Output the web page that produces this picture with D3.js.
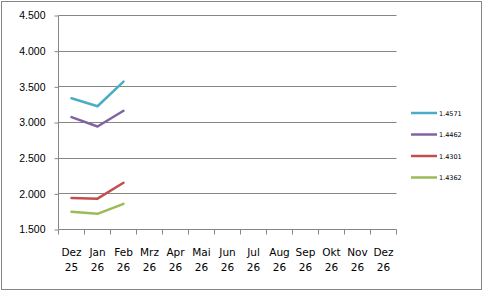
<!DOCTYPE html>
<html>
<head>
<meta charset="utf-8">
<script src="https://cdn.jsdelivr.net/npm/d3@7"></script>
<style>
  body { margin: 0; background: #fff; }
  svg { display: block; font-family: "DejaVu Sans", Verdana, sans-serif; }
</style>
</head>
<body>
<div id="chart"></div>
<script>
"use strict";

// months on the x axis (two-line labels)
const months = ["Dez", "Jan", "Feb", "Mrz", "Apr", "Mai", "Jun", "Jul", "Aug", "Sep", "Okt", "Nov", "Dez"];
const years = ["25", "26", "26", "26", "26", "26", "26", "26", "26", "26", "26", "26", "26"];
const yTicks = [1500, 2000, 2500, 3000, 3500, 4000, 4500];

// series names and values (only first 3 months have data)
const seriesNames = ["1.4571", "1.4462", "1.4301", "1.4362"];
const seriesColors = ["#4BACC6", "#8064A2", "#C0504D", "#9BBB59"];
const s1 = [3340, 3228, 3572];
const s2 = [3076, 2944, 3164];
const s3 = [1940, 1932, 2156];
const s4 = [1748, 1720, 1860];
const seriesValues = [s1, s2, s3, s4];

const W = 483, H = 291;
const m = { left: 58.5, right: 396.5, top: 15.5, bottom: 229.5 };

const svg = d3.select("#chart").append("svg")
  .attr("width", W).attr("height", H);

// outer border
svg.append("rect")
  .attr("x", 1.5).attr("y", 1.5)
  .attr("width", W - 3).attr("height", H - 3)
  .attr("fill", "#fff").attr("stroke", "#868686").attr("stroke-width", 1);

const x = d3.scaleBand().domain(d3.range(months.length)).range([m.left, m.right]);
const y = d3.scaleLinear().domain([1500, 4500]).range([m.bottom, m.top]);

// gridlines
svg.append("g").selectAll("line").data(yTicks.slice(1)).join("line")
  .attr("x1", m.left).attr("x2", m.right)
  .attr("y1", d => Math.round(y(d) - 0.5) + 0.5).attr("y2", d => Math.round(y(d) - 0.5) + 0.5)
  .attr("stroke", "#868686");

// y axis
const yAxis = svg.append("g").attr("transform", `translate(${m.left},0)`)
  .call(d3.axisLeft(y).tickValues(yTicks).tickSize(4).tickPadding(9)
    .tickFormat(d => d3.format(",.3f")(d / 1000).replace(",", ".")));
yAxis.select(".domain").attr("stroke", "#868686").attr("d", `M0,${m.top}V${m.bottom}`);
yAxis.selectAll(".tick line").attr("stroke", "#868686");
yAxis.selectAll(".tick text").attr("fill", "#000").style("font-size", "10.5px");

// x axis line and ticks between categories
const xg = svg.append("g");
xg.append("line")
  .attr("x1", m.left).attr("x2", m.right).attr("y1", m.bottom).attr("y2", m.bottom)
  .attr("stroke", "#868686");
xg.selectAll(".tk").data(d3.range(months.length + 1)).join("line")
  .attr("class", "tk")
  .attr("x1", i => Math.round(m.left - 0.5 + i * x.step()) + 0.5)
  .attr("x2", i => Math.round(m.left - 0.5 + i * x.step()) + 0.5)
  .attr("y1", m.bottom).attr("y2", m.bottom + 5)
  .attr("stroke", "#868686");
const lbl = xg.selectAll(".lbl").data(months).join("text")
  .attr("class", "lbl")
  .attr("text-anchor", "middle")
  .attr("fill", "#000")
  .style("font-size", "10.5px");
lbl.each(function(d, i) {
  const t = d3.select(this);
  const cx = x(i) + x.bandwidth() / 2;
  t.append("tspan").attr("x", cx).attr("y", 256).text(d);
  t.append("tspan").attr("x", cx).attr("y", 271).text(years[i]);
});

// series lines
const line = d3.line()
  .x((d, i) => x(i) + x.bandwidth() / 2)
  .y(d => y(d));
svg.append("g").selectAll("path").data(seriesValues).join("path")
  .attr("d", line)
  .attr("fill", "none")
  .attr("stroke", (d, i) => seriesColors[i])
  .attr("stroke-width", 2.5)
  .attr("stroke-linejoin", "round")
  .attr("stroke-linecap", "round");

// legend
const lg = svg.append("g").selectAll("g").data(seriesNames).join("g")
  .attr("transform", (d, i) => `translate(411,${113 + i * 21.5})`);
lg.append("line")
  .attr("x1", 0).attr("x2", 26).attr("y1", 0).attr("y2", 0)
  .attr("stroke", (d, i) => seriesColors[i]).attr("stroke-width", 2.5);
lg.append("text")
  .attr("x", 28).attr("y", 2.5)
  .attr("fill", "#000")
  .style("font-size", "6.5px")
  .text(d => d);
</script>
</body>
</html>
